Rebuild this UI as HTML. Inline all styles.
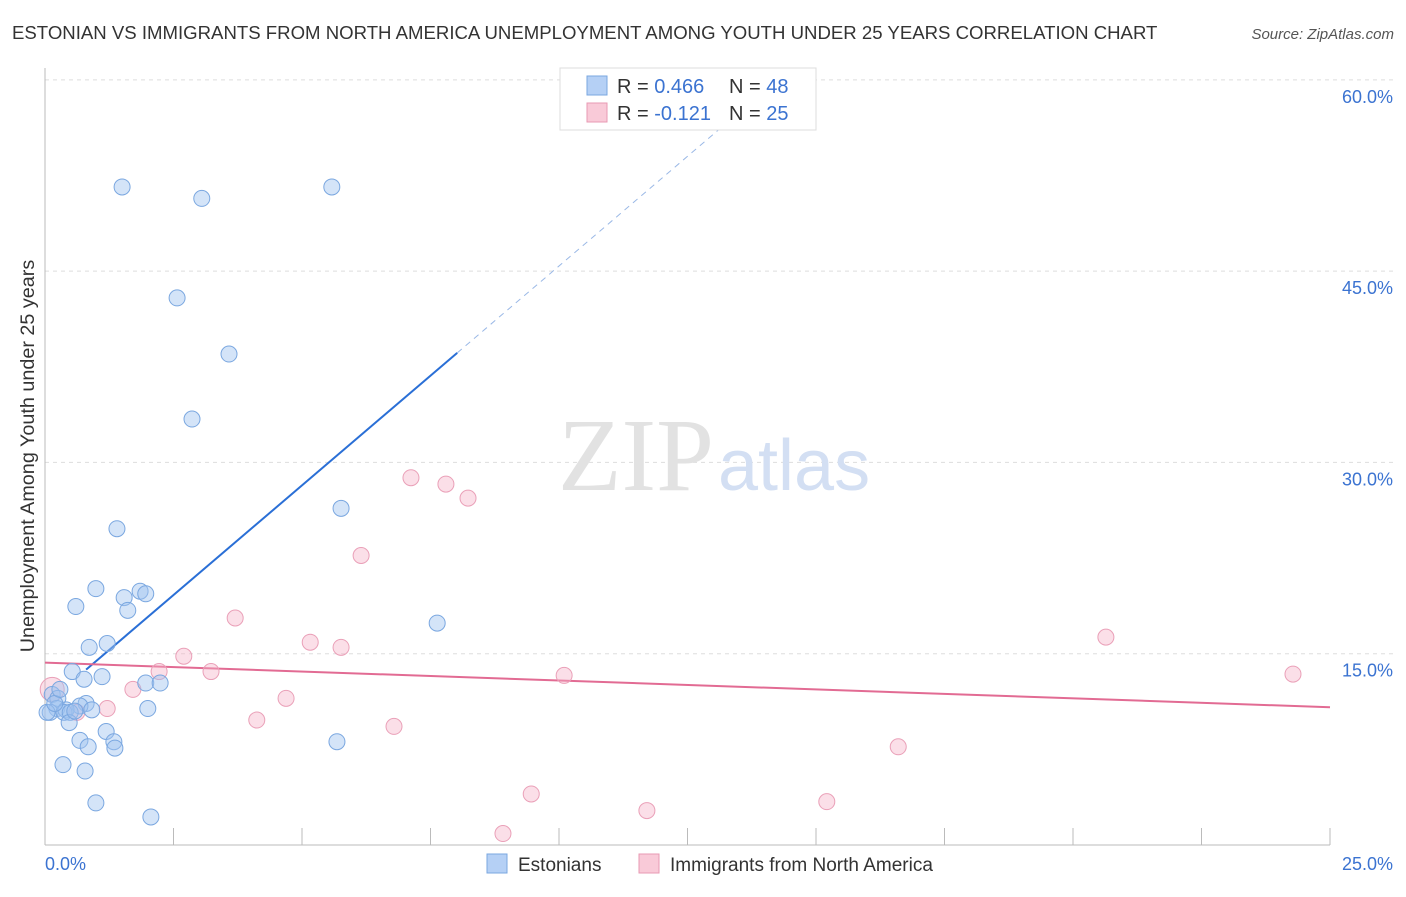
<!DOCTYPE html>
<html><head><meta charset="utf-8"><style>
body{margin:0;background:#fff;font-family:"Liberation Sans",sans-serif;}
svg text{font-family:"Liberation Sans",sans-serif;}
</style></head><body>
<svg width="1406" height="892" xmlns="http://www.w3.org/2000/svg">
<text x="12" y="39" font-size="18.6" fill="#333">ESTONIAN VS IMMIGRANTS FROM NORTH AMERICA UNEMPLOYMENT AMONG YOUTH UNDER 25 YEARS CORRELATION CHART</text>
<text x="1394" y="39" font-size="15" fill="#555" font-style="italic" text-anchor="end">Source: ZipAtlas.com</text>
<text x="34" y="456" font-size="19.8" fill="#333" text-anchor="middle" transform="rotate(-90 34 456)">Unemployment Among Youth under 25 years</text>
<g id="grid"></g>
<g id="ticks"></g>
<text x="714" y="490" font-size="104" fill="#e2e2e2" text-anchor="end" style="font-family:'Liberation Serif',serif">ZIP</text>
<text x="718" y="490" font-size="72" fill="#d3dff3">atlas</text>
<g id="lines"></g>
<g id="pts"></g>
<g>
<rect x="560" y="68" width="256" height="62" fill="#fff" stroke="#ddd"/>
<rect x="587" y="76" width="20" height="19" fill="#b5d0f5" stroke="#7aa7e0"/>
<rect x="587" y="103" width="20" height="19" fill="#f9cad8" stroke="#e89ab3"/>
<text x="617" y="93" font-size="20" fill="#333">R = <tspan fill="#3b73d1">0.466</tspan></text>
<text x="729" y="93" font-size="20" fill="#333">N = <tspan fill="#3b73d1">48</tspan></text>
<text x="617" y="120" font-size="20" fill="#333">R = <tspan fill="#3b73d1">-0.121</tspan></text>
<text x="729" y="120" font-size="20" fill="#333">N = <tspan fill="#3b73d1">25</tspan></text>
</g>
<g>
<rect x="487" y="854" width="20" height="19" fill="#b5d0f5" stroke="#7aa7e0"/>
<text x="518" y="871" font-size="19" fill="#333">Estonians</text>
<rect x="639" y="854" width="20" height="19" fill="#f9cad8" stroke="#e89ab3"/>
<text x="670" y="871" font-size="19" fill="#333">Immigrants from North America</text>
</g>
</svg>
<script>
const blueX=[1.50,3.05,5.58,2.57,3.58,2.86,5.76,1.40,0.99,1.85,1.96,1.54,0.60,1.61,7.63,1.21,0.86,0.53,1.11,0.76,1.96,2.24,0.14,0.25,0.80,0.68,0.23,0.41,0.91,0.10,0.37,0.49,2.00,0.47,1.19,0.68,1.34,0.84,1.36,5.68,0.35,0.78,0.99,2.06,0.04,0.19,0.29,0.58];
const blueY=[51.6,50.7,51.6,42.9,38.5,33.4,26.4,24.8,20.1,19.9,19.7,19.4,18.7,18.4,17.4,15.8,15.5,13.6,13.2,13.0,12.7,12.7,11.8,11.5,11.1,10.9,10.7,10.6,10.6,10.4,10.4,10.4,10.7,9.6,8.9,8.2,8.1,7.7,7.6,8.1,6.3,5.8,3.3,2.2,10.4,11.1,12.2,10.5];
const pinkX=[7.12,7.80,8.23,6.15,3.70,20.64,5.16,5.76,2.70,3.23,2.22,10.10,24.28,1.71,4.69,1.21,0.62,4.12,6.79,16.60,9.46,15.21,11.71,8.91,0.14];
const pinkY=[28.8,28.3,27.2,22.7,17.8,16.3,15.9,15.5,14.8,13.6,13.6,13.3,13.4,12.2,11.5,10.7,10.4,9.8,9.3,7.7,4.0,3.4,2.7,0.9,12.2];
const yTicks=[15,30,45,60];
const yTickLabels=["15.0%","30.0%","45.0%","60.0%"];
const xLabels=["0.0%","25.0%"];
const blueTrend=[11.0,3.44];
const pinkTrend=[14.3,-0.14];
const NS="http://www.w3.org/2000/svg";
const sx=v=>45+v*51.4, sy=v=>845-v*12.753;
function mk(tag,attrs,parent){const e=document.createElementNS(NS,tag);for(const k in attrs)e.setAttribute(k,attrs[k]);document.getElementById(parent).appendChild(e);return e;}
const g='grid';
yTicks.forEach((t,i)=>{
  const l=mk('line',{x1:45,x2:1394,y1:sy(t),y2:sy(t),stroke:'#ddd','stroke-dasharray':'4,4'},g);
  
  
  const tx=mk('text',{x:1393,y:sy(t)+23,'font-size':18,fill:'#3b73d1','text-anchor':'end'},'ticks');
  tx.textContent=yTickLabels[i];
  
  
});
const ax=mk('line',{x1:45,x2:45,y1:68,y2:845,stroke:'#bbb'},g);


const bx=mk('line',{x1:45,x2:1330,y1:845,y2:845,stroke:'#bbb'},g);


for(let i=0;i<=10;i++){
  const t=mk('line',{x1:sx(i*2.5),x2:sx(i*2.5),y1:828,y2:845,stroke:'#bbb'},g);
  
  
}
const xl0=mk('text',{x:45,y:870,'font-size':18,fill:'#3b73d1'},'ticks');xl0.textContent=xLabels[0];


const xl1=mk('text',{x:1393,y:870,'font-size':18,fill:'#3b73d1','text-anchor':'end'},'ticks');xl1.textContent=xLabels[1];


pinkX.forEach((x,i)=>{
  const c=mk('circle',{cx:sx(x),cy:sy(pinkY[i]),r:i==24?12:8,fill:'rgba(245,175,198,0.4)',stroke:'#eaa0b8','stroke-width':1},'pts');
  
  
});
blueX.forEach((x,i)=>{
  const c=mk('circle',{cx:sx(x),cy:sy(blueY[i]),r:8,fill:'rgba(160,196,240,0.45)',stroke:'#7aa7e0','stroke-width':1},'pts');
  
  
});
const bf=x=>blueTrend[0]+blueTrend[1]*x, pf=x=>pinkTrend[0]+pinkTrend[1]*x;
const l1=mk('line',{x1:sx(0.8),y1:sy(bf(0.8)),x2:sx(8.02),y2:sy(bf(8.02)),stroke:'#2a6fd6','stroke-width':2},'lines');


const l2=mk('line',{x1:sx(8.02),y1:sy(bf(8.02)),x2:sx(13.9),y2:sy(bf(13.9)),stroke:'#9ab8e6','stroke-width':1,'stroke-dasharray':'6,5'},'lines');


const l3=mk('line',{x1:sx(0),y1:sy(pf(0)),x2:sx(25),y2:sy(pf(25)),stroke:'#e26b93','stroke-width':2},'lines');


</script>
</body></html>
